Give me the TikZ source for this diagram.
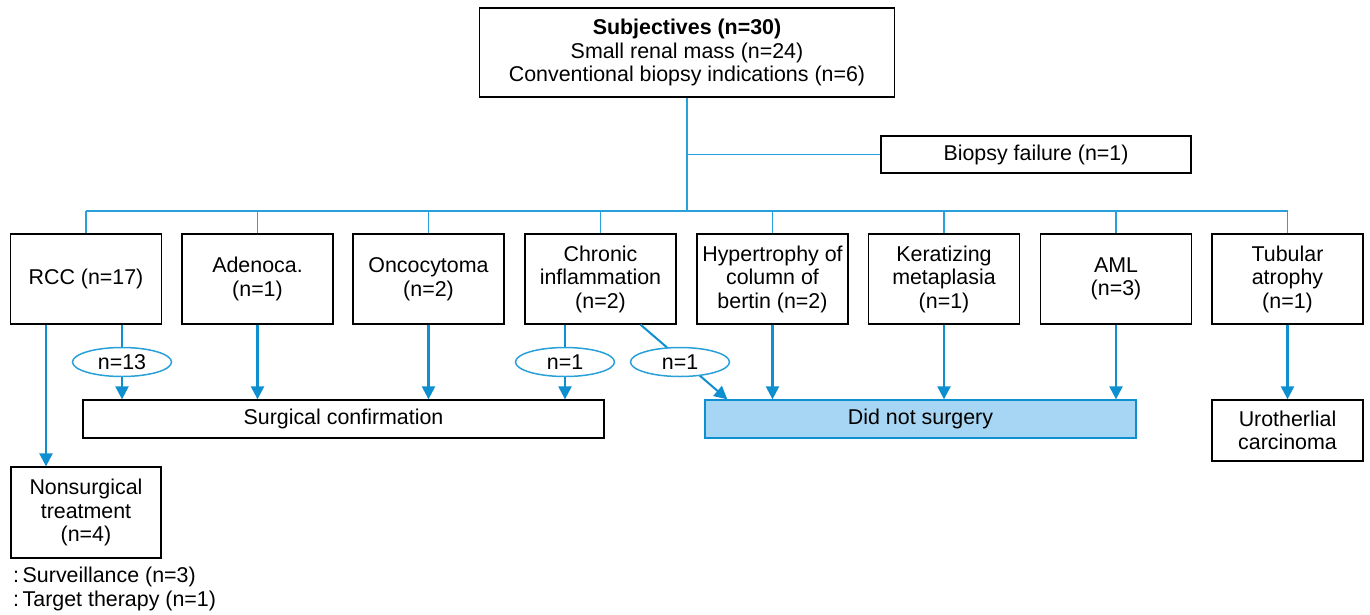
\documentclass[tikz,border=0pt]{standalone}
\usepackage{fontspec}
\setmainfont{Liberation Sans}
\usetikzlibrary{arrows.meta,shapes.geometric}
\definecolor{lineblue}{HTML}{2AA0DA}
\definecolor{arrowblue}{HTML}{0E8FD0}
\definecolor{fillblue}{HTML}{A6D6F3}
\newcommand{\fsz}{\fontsize{21.4}{23.5}\selectfont}
\begin{document}
\begin{tikzpicture}[x=1pt,y=-1pt,
  box/.style={draw=black, line width=1.3pt, align=center, inner sep=0pt, font=\fsz},
  tree/.style={draw=lineblue, line width=1.7pt},
  arr/.style={draw=arrowblue, line width=2.3pt, -{Triangle[length=13pt,width=13pt]}},
  lin/.style={draw=arrowblue, line width=2.3pt},
  oval/.style={ellipse, draw=lineblue, line width=1.5pt, fill=white, minimum width=99pt, minimum height=29pt, inner sep=0pt, font=\fsz},
  cat/.style={box, minimum width=151pt, minimum height=90pt}]
\useasboundingbox (0,0) rectangle (1370,614);
% top
\node[box, minimum width=415pt, minimum height=89pt] (top) at (687,52.5)
  {\textbf{Subjectives (n=30)}\\Small renal mass (n=24)\\Conventional biopsy indications (n=6)};
\node[box, minimum width=310pt, minimum height=37pt] (fail) at (1036,154.5) {Biopsy failure (n=1)};
% categories
\node[cat] (rcc) at (86,279) {RCC (n=17)};
\node[cat] (aden) at (257.5,279) {Adenoca.\\(n=1)};
\node[cat] (onco) at (428.5,279) {Oncocytoma\\(n=2)};
\node[cat] (chro) at (600.5,279) {Chronic\\inflammation\\(n=2)};
\node[cat] (hyp) at (772.5,279) {Hypertrophy of\\column of\\bertin (n=2)};
\node[cat] (ker) at (944,279) {Keratizing\\metaplasia\\(n=1)};
\node[cat] (aml) at (1116,279) {AML\\(n=3)};
\node[cat] (tub) at (1287.5,279) {Tubular\\atrophy\\(n=1)};
% outcomes
\node[box, minimum width=521pt, minimum height=38pt] (surg) at (343.5,419) {Surgical confirmation};
\node[box, draw=arrowblue, fill=fillblue, minimum width=431pt, minimum height=38pt] (dns) at (920.5,419) {Did not surgery};
\node[box, minimum width=151pt, minimum height=61pt] (uro) at (1287.5,430.5) {Urotherlial\\carcinoma};
\node[box, minimum width=150pt, minimum height=91pt] (nons) at (86,512.5) {Nonsurgical\\treatment\\(n=4)};
\node[font=\fsz, anchor=west, align=left, inner sep=0pt] (notes) at (13,589) {:\,Surveillance (n=3)\\:\,Target therapy (n=1)};
% tree
\coordinate (busL) at (86,211);
\coordinate (busR) at (1288,211);
\draw[tree] (top.south) -- (top.south |- busL);
\draw[tree] (top.south |- fail.west) -- (fail.west);
\draw[tree] (busL) -- (busR);
\foreach \n in {rcc,aden,onco,chro,hyp,ker,aml,tub}{
  \draw[tree] (\n.north) -- (\n.north |- busL);
}
% diagonal arrow behind its label
\draw[arr, line width=2pt] ([xshift=40pt]chro.south) -- ([xshift=23pt]dns.north west);
% ellipses
\node[oval] (e13) at (122,362) {n=13};
\node[oval] (e1a) at (565,362) {n=1};
\node[oval] (e1b) at (680,362) {n=1};
% arrows
\draw[arr] ([xshift=-40pt]rcc.south) -- ([xshift=-40pt]nons.north);
\draw[lin] (rcc.south -| e13.north) -- (e13.north);
\draw[arr] (e13.south) -- (e13.south |- surg.north);
\draw[arr] (aden.south) -- (aden.south |- surg.north);
\draw[arr] (onco.south) -- (onco.south |- surg.north);
\draw[lin] (chro.south -| e1a.north) -- (e1a.north);
\draw[arr] (e1a.south) -- (e1a.south |- surg.north);
\draw[arr] (hyp.south) -- (hyp.south |- dns.north);
\draw[arr] (ker.south) -- (ker.south |- dns.north);
\draw[arr] (aml.south) -- (aml.south |- dns.north);
\draw[arr] (tub.south) -- (uro.north);
\end{tikzpicture}
\end{document}
